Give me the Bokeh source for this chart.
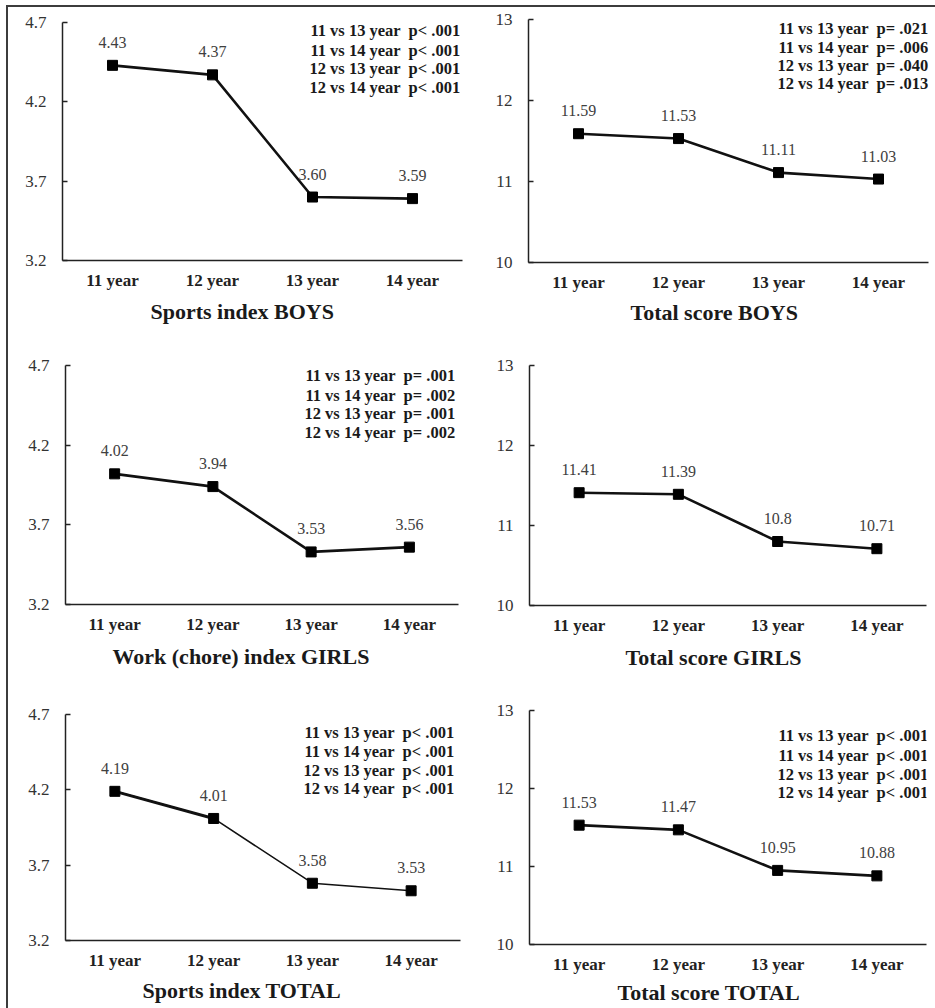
from bokeh.plotting import figure
from bokeh.layouts import column, row
from bokeh.models import FixedTicker, Range1d, FactorRange, Label, Title
from bokeh.core.properties import value
from bokeh.embed import file_html
from bokeh.resources import INLINE

# ---------------- data ----------------
categories = ["11 year", "12 year", "13 year", "14 year"]

sports_boys = [4.43, 4.37, 3.60, 3.59]
total_boys = [11.59, 11.53, 11.11, 11.03]
work_girls = [4.02, 3.94, 3.53, 3.56]
total_girls = [11.41, 11.39, 10.8, 10.71]
sports_total = [4.19, 4.01, 3.58, 3.53]
total_total = [11.53, 11.47, 10.95, 10.88]

index_ticks = [3.2, 3.7, 4.2, 4.7]
score_ticks = [10, 11, 12, 13]

pv_sports_boys = ["11 vs 13 year  p< .001", "11 vs 14 year  p< .001",
                  "12 vs 13 year  p< .001", "12 vs 14 year  p< .001"]
pv_total_boys = ["11 vs 13 year  p= .021", "11 vs 14 year  p= .006",
                 "12 vs 13 year  p= .040", "12 vs 14 year  p= .013"]
pv_work_girls = ["11 vs 13 year  p= .001", "11 vs 14 year  p= .002",
                 "12 vs 13 year  p= .001", "12 vs 14 year  p= .002"]
pv_total_girls = []
pv_sports_total = ["11 vs 13 year  p< .001", "11 vs 14 year  p< .001",
                   "12 vs 13 year  p< .001", "12 vs 14 year  p< .001"]
pv_total_total = ["11 vs 13 year  p< .001", "11 vs 14 year  p< .001",
                  "12 vs 13 year  p< .001", "12 vs 14 year  p< .001"]

titles = ["Sports index BOYS", "Total score BOYS", "Work (chore) index GIRLS",
          "Total score GIRLS", "Sports index TOTAL", "Total score TOTAL"]

SERIF = "Liberation Serif"


def fmt2(v):
    return f"{v:.2f}"


def fmtg(v):
    return f"{v:g}"


def make_panel(vals, fmt, ticks, title, pvals, W, H, bl, br, bt, bb,
               toff, ax, atops, thin_tail=False):
    fh = H - bt - bb
    p = figure(x_range=FactorRange(*categories),
               y_range=Range1d(ticks[0], ticks[-1]),
               width=W, height=H, min_border_left=bl, min_border_right=br,
               min_border_top=bt, min_border_bottom=bb,
               output_backend="svg", toolbar_location=None, tools="")
    p.frame_align = False
    p.outline_line_color = None
    p.xgrid.visible = False
    p.ygrid.visible = False
    p.background_fill_color = "white"
    p.border_fill_color = "white"

    ya = p.yaxis[0]
    ya.ticker = FixedTicker(ticks=ticks)
    ya.major_tick_in = 5
    ya.major_tick_out = 0
    ya.minor_tick_line_color = None
    ya.axis_line_width = 1.5
    ya.axis_line_color = "#222222"
    ya.major_tick_line_color = "#222222"
    ya.major_tick_line_width = 1.5
    ya.major_label_text_font = SERIF
    ya.major_label_text_font_size = "17px"
    ya.major_label_text_color = "#333333"
    ya.major_label_standoff = 16

    xa = p.xaxis[0]
    xa.major_tick_line_color = None
    xa.minor_tick_line_color = None
    xa.axis_line_width = 1.5
    xa.axis_line_color = "#222222"
    xa.major_label_text_font = SERIF
    xa.major_label_text_font_style = "bold"
    xa.major_label_text_font_size = "17px"
    xa.major_label_text_color = "#222222"
    xa.major_label_standoff = 4

    if thin_tail:
        p.line(categories, vals, line_width=1.5, color="#111111")
        p.line(categories[:2], vals[:2], line_width=3, color="#111111")
    else:
        p.line(categories, vals, line_width=2.6, color="#111111")
    p.scatter(categories, vals, marker="square", size=10, color="black")
    p.text(x=categories, y=vals, text=[fmt(v) for v in vals],
           text_font=value(SERIF), text_font_size="16px",
           text_align="center", text_baseline="middle", y_offset=-23,
           text_color="#404040")

    for t, top in zip(pvals, atops):
        p.add_layout(Label(x=ax, y=fh - top, x_units="screen", y_units="screen",
                           text=t.replace("  ", " \u00a0"), text_font=SERIF,
                           text_font_size="16.5px",
                           text_font_style="bold", text_align="right",
                           text_baseline="middle", text_color="#1a1a1a"))

    p.add_layout(Title(text=title, align="left", offset=toff,
                       vertical_align="middle", standoff=max(bb - 60, 0),
                       text_font=SERIF, text_font_size="22px",
                       text_font_style="bold", text_color="#1a1a1a"), "below")
    return p


p1 = make_panel(sports_boys, fmt2, index_ticks, titles[0], pv_sports_boys,
                463, 324, 54, 9, 15, 71, 88, 398, [8, 28, 46, 65])
p2 = make_panel(total_boys, fmt2, score_ticks, titles[1], pv_total_boys,
                464, 324, 57, 7, 12, 69, 102, 400, [9, 28, 46, 64])
p3 = make_panel(work_girls, fmt2, index_ticks, titles[2], pv_work_girls,
                463, 346, 57, 13, 34, 73, 47, 390, [10, 30, 48, 67])
p4 = make_panel(total_girls, fmtg, score_ticks, titles[3], pv_total_girls,
                464, 346, 58, 9, 34, 72, 96, 397, [])
p5 = make_panel(sports_total, fmt2, index_ticks, titles[4], pv_sports_total,
                463, 331, 57, 11, 37, 68, 77, 389, [18, 37, 56, 74],
                thin_tail=True)
p6 = make_panel(total_total, fmt2, score_ticks, titles[5], pv_total_total,
                464, 331, 58, 9, 33, 64, 88, 399, [25, 45, 64, 82])

layout = column(row(p1, p2), row(p3, p4), row(p5, p6),
                styles={"margin-left": "6px", "margin-top": "5px",
                        "border-left": "2px solid #3c3c3c",
                        "border-top": "2px solid #3c3c3c"})

open("out.html", "w").write(file_html(layout, INLINE))
